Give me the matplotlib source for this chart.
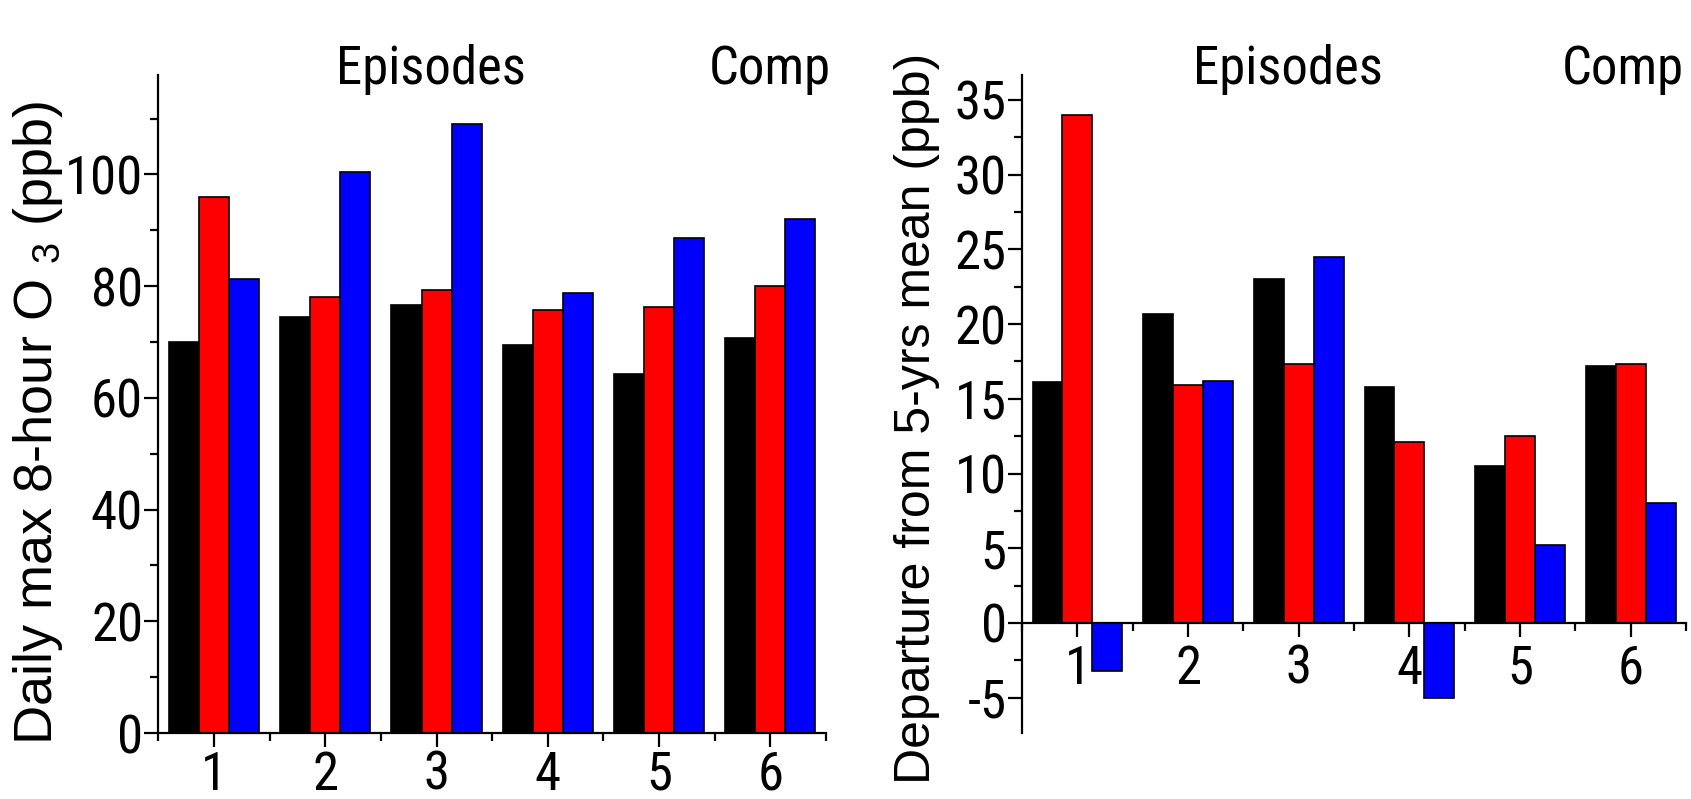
import matplotlib
matplotlib.use('Agg')
import numpy as np
from matplotlib import pyplot as plt
from matplotlib.ticker import MultipleLocator

# Episodes 1-5 plus composite (6)
episodes = [1, 2, 3, 4, 5, 6]
tick_labels = ['1', '2', '3', '4', '5', '6']

# Daily max 8-hour O3 (ppb)
o3_black = [70.0, 74.5, 76.6, 69.5, 64.3, 70.8]
o3_red = [96.0, 78.0, 79.4, 75.7, 76.2, 80.0]
o3_blue = [81.2, 100.5, 109.0, 78.7, 88.6, 92.0]

# Departure from 5-yrs mean (ppb)
dep_black = [16.1, 20.7, 23.0, 15.8, 10.5, 17.2]
dep_red = [34.0, 15.9, 17.3, 12.1, 12.5, 17.3]
dep_blue = [-3.2, 16.2, 24.5, -5.0, 5.2, 8.0]

narrow = ['Roboto Condensed', 'Noto Sans Condensed', 'Open Sans Condensed',
          'Liberation Sans', 'DejaVu Sans']
plt.rcParams['font.family'] = narrow
plt.rcParams['mathtext.fontset'] = 'custom'
plt.rcParams['mathtext.rm'] = 'Liberation Sans'
plt.rcParams['axes.unicode_minus'] = False

fs = 38       # tick labels / annotations
width = 0.27
colors = ['black', 'red', 'blue']

fig = plt.figure(figsize=(16.91, 7.99), dpi=100)
ax1 = fig.add_axes([0.0937, 0.0826, 0.3947, 0.8235])
ax2 = fig.add_axes([0.6044, 0.0826, 0.3927, 0.8235])

x = np.array(episodes)


def draw_bars(ax, series):
    for i, (vals, c) in enumerate(zip(series, colors)):
        ax.bar(x + (i - 1) * width, vals, width, color=c,
               edgecolor='black', linewidth=1.2, zorder=2)


def style_axis(ax):
    for s in ['top', 'right']:
        ax.spines[s].set_visible(False)
    for s in ['left', 'bottom']:
        ax.spines[s].set_linewidth(1.6)
    ax.set_xlim(0.5, 6.5)
    ax.set_xticks(x)
    ax.set_xticklabels(tick_labels)
    ax.set_xticks(np.append(x - 0.5, 6.5), minor=True)
    ax.tick_params(which='major', direction='out', length=10, width=1.6,
                   labelsize=fs)
    ax.tick_params(which='minor', direction='out', length=5.5, width=1.6)
    ax.tick_params(axis='y', which='major', pad=1)
    ax.tick_params(axis='x', which='major', pad=2)


# left panel
draw_bars(ax1, [o3_black, o3_red, o3_blue])
style_axis(ax1)
ax1.set_ylim(0, 117.8)
ax1.yaxis.set_major_locator(MultipleLocator(20))
ax1.yaxis.set_minor_locator(MultipleLocator(10))
ax1.set_ylabel(r'Daily max 8-hour O $_{\mathregular{3}}$ (ppb)',
               fontsize=39, family='Liberation Sans')
ax1.yaxis.set_label_coords(-0.14, 0.472)
ax1.text(2.95, 118.7, 'Episodes', fontsize=fs, ha='center', va='center', clip_on=False)
ax1.text(6.0, 118.7, 'Comp', fontsize=fs, ha='center', va='center', clip_on=False)

# right panel
draw_bars(ax2, [dep_black, dep_red, dep_blue])
style_axis(ax2)
ax2.spines['bottom'].set_position(('data', 0))
ax2.set_ylim(-7.36, 36.66)
ax2.yaxis.set_major_locator(MultipleLocator(5))
ax2.yaxis.set_minor_locator(MultipleLocator(2.5))
ax2.tick_params(axis='x', which='major', pad=5)
ax2.set_ylabel('Departure from 5-yrs mean (ppb)', fontsize=36,
               family='Liberation Sans')
ax2.yaxis.set_label_coords(-0.123, 0.478)
ax2.text(2.9, 37.0, 'Episodes', fontsize=fs, ha='center', va='center', clip_on=False)
ax2.text(5.93, 37.0, 'Comp', fontsize=fs, ha='center', va='center', clip_on=False)

fig.savefig('out.png', dpi=100)
